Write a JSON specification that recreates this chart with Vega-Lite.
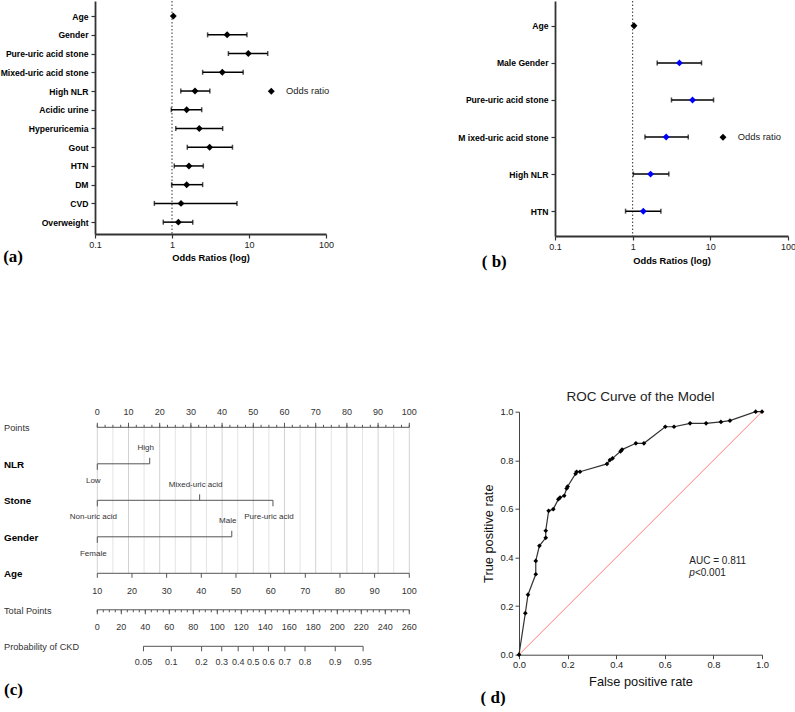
{
 "$schema": "https://vega.github.io/schema/vega-lite/v6.json",
 "background": "white",
 "padding": 0,
 "spacing": 117.7,
 "config": {"view": {"stroke": null}, "font": "Liberation Sans", "text": {"font": "Liberation Sans"}},
 "datasets": {
  "fa": [
   {"factor":"Age","or":1.04,"lo":1.03,"hi":1.05},
   {"factor":"Gender","or":5.2,"lo":2.9,"hi":9.4},
   {"factor":"Pure-uric acid stone","or":9.8,"lo":5.4,"hi":17.5},
   {"factor":"Mixed-uric acid stone","or":4.5,"lo":2.5,"hi":8.4},
   {"factor":"High NLR","or":1.99,"lo":1.3,"hi":3.1},
   {"factor":"Acidic urine","or":1.55,"lo":0.98,"hi":2.43},
   {"factor":"Hyperuricemia","or":2.26,"lo":1.12,"hi":4.55},
   {"factor":"Gout","or":3.08,"lo":1.58,"hi":6.1},
   {"factor":"HTN","or":1.66,"lo":1.07,"hi":2.55},
   {"factor":"DM","or":1.55,"lo":0.99,"hi":2.5},
   {"factor":"CVD","or":1.31,"lo":0.59,"hi":6.98},
   {"factor":"Overweight","or":1.21,"lo":0.77,"hi":1.86}
  ],
  "fb": [
   {"factor":"Age","or":1.04,"lo":1.03,"hi":1.05},
   {"factor":"Male Gender","or":4.0,"lo":2.07,"hi":7.7},
   {"factor":"Pure-uric acid stone","or":5.9,"lo":3.16,"hi":11.0},
   {"factor":"M ixed-uric acid stone","or":2.7,"lo":1.44,"hi":5.2},
   {"factor":"High NLR","or":1.7,"lo":1.02,"hi":2.92},
   {"factor":"HTN","or":1.37,"lo":0.81,"hi":2.31}
  ],
  "roc": [
   {"fpr":0,"tpr":0},{"fpr":0.026,"tpr":0.171},{"fpr":0.037,"tpr":0.247},{"fpr":0.069,"tpr":0.331},
   {"fpr":0.069,"tpr":0.386},{"fpr":0.084,"tpr":0.448},{"fpr":0.11,"tpr":0.481},{"fpr":0.11,"tpr":0.51},
   {"fpr":0.122,"tpr":0.592},{"fpr":0.141,"tpr":0.599},{"fpr":0.162,"tpr":0.64},{"fpr":0.169,"tpr":0.647},
   {"fpr":0.186,"tpr":0.654},{"fpr":0.196,"tpr":0.684},{"fpr":0.2,"tpr":0.692},{"fpr":0.233,"tpr":0.745},
   {"fpr":0.237,"tpr":0.753},{"fpr":0.251,"tpr":0.753},{"fpr":0.362,"tpr":0.785},{"fpr":0.374,"tpr":0.801},
   {"fpr":0.385,"tpr":0.808},{"fpr":0.418,"tpr":0.837},{"fpr":0.424,"tpr":0.844},{"fpr":0.481,"tpr":0.87},
   {"fpr":0.514,"tpr":0.87},{"fpr":0.602,"tpr":0.938},{"fpr":0.638,"tpr":0.938},{"fpr":0.704,"tpr":0.952},
   {"fpr":0.77,"tpr":0.952},{"fpr":0.831,"tpr":0.958},{"fpr":0.868,"tpr":0.963},{"fpr":0.974,"tpr":1.0},
   {"fpr":1.0,"tpr":1.0}
  ],
  "pts": [
   {"v":0},{"v":2.5},{"v":5},{"v":7.5},{"v":10},{"v":12.5},{"v":15},{"v":17.5},{"v":20},{"v":22.5},
   {"v":25},{"v":27.5},{"v":30},{"v":32.5},{"v":35},{"v":37.5},{"v":40},{"v":42.5},{"v":45},{"v":47.5},
   {"v":50},{"v":52.5},{"v":55},{"v":57.5},{"v":60},{"v":62.5},{"v":65},{"v":67.5},{"v":70},{"v":72.5},
   {"v":75},{"v":77.5},{"v":80},{"v":82.5},{"v":85},{"v":87.5},{"v":90},{"v":92.5},{"v":95},{"v":97.5},{"v":100}
  ],
  "age": [
   {"age":10},{"age":20},{"age":30},{"age":40},{"age":50},{"age":60},{"age":70},{"age":80},{"age":90},{"age":100}
  ],
  "tp": [
   {"tp":0},{"tp":5},{"tp":10},{"tp":15},{"tp":20},{"tp":25},{"tp":30},{"tp":35},{"tp":40},{"tp":45},
   {"tp":50},{"tp":55},{"tp":60},{"tp":65},{"tp":70},{"tp":75},{"tp":80},{"tp":85},{"tp":90},{"tp":95},
   {"tp":100},{"tp":105},{"tp":110},{"tp":115},{"tp":120},{"tp":125},{"tp":130},{"tp":135},{"tp":140},{"tp":145},
   {"tp":150},{"tp":155},{"tp":160},{"tp":165},{"tp":170},{"tp":175},{"tp":180},{"tp":185},{"tp":190},{"tp":195},
   {"tp":200},{"tp":205},{"tp":210},{"tp":215},{"tp":220},{"tp":225},{"tp":230},{"tp":235},{"tp":240},{"tp":245},
   {"tp":250},{"tp":255},{"tp":260}
  ],
  "prob": [
   {"p":"0.05","tp":38.5},{"p":"0.1","tp":61.7},{"p":"0.2","tp":86.9},{"p":"0.3","tp":103.7},
   {"p":"0.4","tp":117.4},{"p":"0.5","tp":130},{"p":"0.6","tp":142.6},{"p":"0.7","tp":156.3},
   {"p":"0.8","tp":173.1},{"p":"0.9","tp":198.3},{"p":"0.95","tp":221.5}
  ],
  "rows": [
   {"row":1,"name":"Points"},{"row":2,"name":"NLR"},{"row":3,"name":"Stone"},{"row":4,"name":"Gender"},
   {"row":5,"name":"Age"},{"row":6,"name":"Total Points"},{"row":7,"name":"Probability of CKD"}
  ],
  "lines": [
   {"row":2,"from":0,"to":16.8},{"row":3,"from":0,"to":56.3},{"row":4,"from":0,"to":43.1}
  ],
  "cats": [
   {"row":2,"pts":0,"label":"Low","side":"below"},
   {"row":2,"pts":16.8,"label":"High","side":"above"},
   {"row":3,"pts":0,"label":"Non-uric acid","side":"below"},
   {"row":3,"pts":32.8,"label":"Mixed-uric acid","side":"above"},
   {"row":3,"pts":56.3,"label":"Pure-uric acid","side":"below"},
   {"row":4,"pts":0,"label":"Female","side":"below"},
   {"row":4,"pts":43.1,"label":"Male","side":"above"}
  ]
 },
 "vconcat": [
  {
   "spacing": 123,
   "resolve": {"scale": {"shape": "independent"}, "legend": {"shape": "independent"}},
   "hconcat": [
    {
     "width": 231, "height": 233,
     "title": {"text": "(a)", "orient": "bottom", "anchor": "start", "frame": "bounds", "font": "Liberation Serif", "fontSize": 17, "fontWeight": "bold", "offset": -13.5, "dx": 3, "color": "black"},
     "data": {"name": "fa"},
     "layer": [
      {"data": {"values": [{}]}, "mark": {"type": "rule", "strokeDash": [1.5, 2], "color": "#333", "strokeWidth": 1},
       "encoding": {"x": {"datum": 1, "type": "quantitative", "scale": {"type": "log", "domain": [0.1, 100], "nice": false},
        "axis": {"title": "Odds Ratios (log)", "values": [0.1, 1, 10, 100], "format": "~g", "labelFontSize": 9, "labelColor": "#222", "labelFont": "Liberation Sans", "titleFont": "Liberation Sans", "titleFontSize": 9.3, "titleFontWeight": "bold", "titleColor": "black", "tickSize": 4, "tickColor": "#333", "tickWidth": 1.2, "domainColor": "#333", "domainWidth": 1.8, "labelPadding": 2, "titlePadding": 4.6, "grid": false, "labelFlush": false}}}},
      {"mark": {"type": "rule", "color": "black", "strokeWidth": 1.5},
       "encoding": {
        "y": {"field": "factor", "type": "nominal", "sort": null, "scale": {"type": "point", "padding": 0.72, "align": 0.56},
         "axis": {"title": null, "labelFont": "Liberation Sans", "labelFontSize": 8.6, "labelFontWeight": "bold", "labelColor": "black", "tickSize": 4, "tickColor": "#333", "tickWidth": 1.2, "domainColor": "#333", "domainWidth": 1.8, "labelPadding": 3, "grid": false}},
        "x": {"field": "lo", "type": "quantitative", "scale": {"type": "log", "domain": [0.1, 100], "nice": false}},
        "x2": {"field": "hi"}}},
      {"mark": {"type": "tick", "orient": "vertical", "color": "black", "size": 5, "thickness": 1.5},
       "encoding": {"y": {"field": "factor", "type": "nominal", "sort": null, "scale": {"type": "point", "padding": 0.72, "align": 0.56}},
        "x": {"field": "lo", "type": "quantitative"}}},
      {"mark": {"type": "tick", "orient": "vertical", "color": "black", "size": 5, "thickness": 1.5},
       "encoding": {"y": {"field": "factor", "type": "nominal", "sort": null, "scale": {"type": "point", "padding": 0.72, "align": 0.56}},
        "x": {"field": "hi", "type": "quantitative"}}},
      {"mark": {"type": "point", "filled": true, "size": 48, "opacity": 1, "color": "black"},
       "encoding": {"y": {"field": "factor", "type": "nominal", "sort": null, "scale": {"type": "point", "padding": 0.72, "align": 0.56}},
        "x": {"field": "or", "type": "quantitative"},
        "shape": {"datum": "Odds ratio", "type": "nominal", "scale": {"range": ["diamond"]},
         "legend": {"orient": "none", "legendX": 171.6, "legendY": 85.6, "title": null, "labelFontSize": 9.4, "labelColor": "#222", "labelFont": "Liberation Sans", "symbolSize": 48, "symbolFillColor": "black", "symbolStrokeColor": "black", "labelOffset": 10, "padding": 0}}}}
     ]
    },
    {
     "width": 233, "height": 235,
     "title": {"text": "( b)", "orient": "bottom", "anchor": "start", "frame": "bounds", "font": "Liberation Serif", "fontSize": 17, "fontWeight": "bold", "offset": -11.3, "dx": 24, "color": "black"},
     "data": {"name": "fb"},
     "layer": [
      {"data": {"values": [{}]}, "mark": {"type": "rule", "strokeDash": [1.5, 2], "color": "#333", "strokeWidth": 1},
       "encoding": {"x": {"datum": 1, "type": "quantitative", "scale": {"type": "log", "domain": [0.1, 100], "nice": false},
        "axis": {"title": "Odds Ratios (log)", "values": [0.1, 1, 10, 100], "format": "~g", "labelFontSize": 9, "labelColor": "#222", "labelFont": "Liberation Sans", "titleFont": "Liberation Sans", "titleFontSize": 9.3, "titleFontWeight": "bold", "titleColor": "black", "tickSize": 4, "tickColor": "#333", "tickWidth": 1.2, "domainColor": "#333", "domainWidth": 1.8, "labelPadding": 2, "titlePadding": 5.3, "grid": false, "labelFlush": false}}}},
      {"mark": {"type": "rule", "color": "black", "strokeWidth": 1.5},
       "encoding": {
        "y": {"field": "factor", "type": "nominal", "sort": null, "scale": {"type": "point", "padding": 0.67},
         "axis": {"title": null, "labelFont": "Liberation Sans", "labelFontSize": 8.6, "labelFontWeight": "bold", "labelColor": "black", "tickSize": 4, "tickColor": "#333", "tickWidth": 1.2, "domainColor": "#333", "domainWidth": 1.8, "labelPadding": 3, "grid": false}},
        "x": {"field": "lo", "type": "quantitative", "scale": {"type": "log", "domain": [0.1, 100], "nice": false}},
        "x2": {"field": "hi"}}},
      {"mark": {"type": "tick", "orient": "vertical", "color": "black", "size": 5, "thickness": 1.5},
       "encoding": {"y": {"field": "factor", "type": "nominal", "sort": null, "scale": {"type": "point", "padding": 0.67}},
        "x": {"field": "lo", "type": "quantitative"}}},
      {"mark": {"type": "tick", "orient": "vertical", "color": "black", "size": 5, "thickness": 1.5},
       "encoding": {"y": {"field": "factor", "type": "nominal", "sort": null, "scale": {"type": "point", "padding": 0.67}},
        "x": {"field": "hi", "type": "quantitative"}}},
      {"transform": [{"filter": "datum.factor !== 'Age'"}],
       "mark": {"type": "point", "filled": true, "size": 48, "opacity": 1, "shape": "diamond", "color": "#0000ff"},
       "encoding": {"y": {"field": "factor", "type": "nominal", "sort": null, "scale": {"type": "point", "padding": 0.67}},
        "x": {"field": "or", "type": "quantitative"}}},
      {"transform": [{"filter": "datum.factor === 'Age'"}],
       "mark": {"type": "point", "filled": true, "size": 48, "opacity": 1, "color": "black"},
       "encoding": {"y": {"field": "factor", "type": "nominal", "sort": null, "scale": {"type": "point", "padding": 0.67}},
        "x": {"field": "or", "type": "quantitative"},
        "shape": {"datum": "Odds ratio", "type": "nominal", "scale": {"range": ["diamond"]},
         "legend": {"orient": "none", "legendX": 163.3, "legendY": 131.6, "title": null, "labelFontSize": 9.4, "labelColor": "#222", "labelFont": "Liberation Sans", "symbolSize": 48, "symbolFillColor": "black", "symbolStrokeColor": "black", "labelOffset": 10, "padding": 0}}}}
     ]
    }
   ]
  },
  {
   "spacing": 60,
   "hconcat": [
    {
     "width": 325, "height": 259,
     "title": {"text": "(c)", "orient": "bottom", "anchor": "start", "frame": "bounds", "font": "Liberation Serif", "fontSize": 17, "fontWeight": "bold", "offset": 11, "dx": 0, "color": "black"},
     "resolve": {"scale": {"x": "independent"}},
     "layer": [
      {"layer": [
       {"data": {"name": "pts"}, "transform": [{"filter": "datum.v % 5 == 0 && datum.v % 10 != 0"}],
        "mark": {"type": "rule", "color": "#e4e4e4", "strokeWidth": 1},
        "encoding": {"x": {"field": "v", "type": "quantitative", "scale": {"domain": [-0.737, 103.43], "nice": false, "zero": false}, "axis": null},
         "y": {"datum": 1, "type": "quantitative", "scale": {"domain": [0.5726, 7.6685], "reverse": true, "nice": false, "zero": false}, "axis": null},
         "y2": {"datum": 5}}},
       {"data": {"name": "pts"}, "transform": [{"filter": "datum.v % 10 == 0"}],
        "mark": {"type": "rule", "color": "#d2d2d2", "strokeWidth": 1},
        "encoding": {"x": {"field": "v", "type": "quantitative", "scale": {"domain": [-0.737, 103.43], "nice": false, "zero": false}, "axis": null},
         "y": {"datum": 1, "type": "quantitative", "scale": {"domain": [0.5726, 7.6685], "reverse": true, "nice": false, "zero": false}, "axis": null},
         "y2": {"datum": 5}}},
       {"data": {"values": [{}]}, "mark": {"type": "rule", "color": "#555", "strokeWidth": 1},
        "encoding": {"x": {"datum": 0, "type": "quantitative", "scale": {"domain": [-0.737, 103.43], "nice": false, "zero": false}, "axis": null},
         "x2": {"datum": 100},
         "y": {"datum": 1, "type": "quantitative", "scale": {"domain": [0.5726, 7.6685], "reverse": true, "nice": false, "zero": false}, "axis": null}}},
       {"data": {"name": "pts"}, "mark": {"type": "rule", "color": "#555", "strokeWidth": 1, "y2Offset": -2.5},
        "encoding": {"x": {"field": "v", "type": "quantitative", "scale": {"domain": [-0.737, 103.43], "nice": false, "zero": false}, "axis": null},
         "y": {"datum": 1, "type": "quantitative", "scale": {"domain": [0.5726, 7.6685], "reverse": true, "nice": false, "zero": false}, "axis": null},
         "y2": {"datum": 1}}},
       {"data": {"name": "pts"}, "transform": [{"filter": "datum.v % 10 == 0"}], "mark": {"type": "rule", "color": "#555", "strokeWidth": 1, "y2Offset": -4.5},
        "encoding": {"x": {"field": "v", "type": "quantitative", "scale": {"domain": [-0.737, 103.43], "nice": false, "zero": false}, "axis": null},
         "y": {"datum": 1, "type": "quantitative", "scale": {"domain": [0.5726, 7.6685], "reverse": true, "nice": false, "zero": false}, "axis": null},
         "y2": {"datum": 1}}},
       {"data": {"name": "pts"}, "transform": [{"filter": "datum.v % 10 == 0"}], "mark": {"type": "text", "dy": -15, "fontSize": 9, "color": "#333"},
        "encoding": {"x": {"field": "v", "type": "quantitative", "scale": {"domain": [-0.737, 103.43], "nice": false, "zero": false}, "axis": null},
         "y": {"datum": 1, "type": "quantitative", "scale": {"domain": [0.5726, 7.6685], "reverse": true, "nice": false, "zero": false}, "axis": null},
         "text": {"field": "v", "type": "quantitative", "format": "d"}}},
       {"data": {"name": "rows"}, "transform": [{"filter": "datum.row == 1 || datum.row >= 6"}],
        "mark": {"type": "text", "align": "left", "baseline": "middle", "dy": 1, "fontSize": 9.2, "color": "#333"},
        "encoding": {"x": {"datum": -29.9, "type": "quantitative", "scale": {"domain": [-0.737, 103.43], "nice": false, "zero": false}, "axis": null},
         "y": {"field": "row", "type": "quantitative", "scale": {"domain": [0.5726, 7.6685], "reverse": true, "nice": false, "zero": false}, "axis": null},
         "text": {"field": "name"}}},
       {"data": {"name": "rows"}, "transform": [{"filter": "datum.row >= 2 && datum.row <= 5"}],
        "mark": {"type": "text", "align": "left", "baseline": "middle", "dy": 1, "fontSize": 9.8, "fontWeight": "bold", "color": "black"},
        "encoding": {"x": {"datum": -29.9, "type": "quantitative", "scale": {"domain": [-0.737, 103.43], "nice": false, "zero": false}, "axis": null},
         "y": {"field": "row", "type": "quantitative", "scale": {"domain": [0.5726, 7.6685], "reverse": true, "nice": false, "zero": false}, "axis": null},
         "text": {"field": "name"}}},
       {"data": {"name": "lines"}, "mark": {"type": "rule", "color": "#555", "strokeWidth": 1},
        "encoding": {"x": {"field": "from", "type": "quantitative", "scale": {"domain": [-0.737, 103.43], "nice": false, "zero": false}, "axis": null},
         "x2": {"field": "to"},
         "y": {"field": "row", "type": "quantitative", "scale": {"domain": [0.5726, 7.6685], "reverse": true, "nice": false, "zero": false}, "axis": null}}},
       {"data": {"name": "cats"}, "transform": [{"filter": "datum.side == 'above'"}], "mark": {"type": "rule", "color": "#555", "strokeWidth": 1, "y2Offset": -6},
        "encoding": {"x": {"field": "pts", "type": "quantitative", "scale": {"domain": [-0.737, 103.43], "nice": false, "zero": false}, "axis": null},
         "y": {"field": "row", "type": "quantitative", "scale": {"domain": [0.5726, 7.6685], "reverse": true, "nice": false, "zero": false}, "axis": null},
         "y2": {"field": "row"}}},
       {"data": {"name": "cats"}, "transform": [{"filter": "datum.side == 'below'"}], "mark": {"type": "rule", "color": "#555", "strokeWidth": 1, "y2Offset": 6},
        "encoding": {"x": {"field": "pts", "type": "quantitative", "scale": {"domain": [-0.737, 103.43], "nice": false, "zero": false}, "axis": null},
         "y": {"field": "row", "type": "quantitative", "scale": {"domain": [0.5726, 7.6685], "reverse": true, "nice": false, "zero": false}, "axis": null},
         "y2": {"field": "row"}}},
       {"data": {"name": "cats"}, "transform": [{"filter": "datum.side == 'above'"}], "mark": {"type": "text", "dy": -15.5, "dx": -4, "fontSize": 8, "color": "#333"},
        "encoding": {"x": {"field": "pts", "type": "quantitative", "scale": {"domain": [-0.737, 103.43], "nice": false, "zero": false}, "axis": null},
         "y": {"field": "row", "type": "quantitative", "scale": {"domain": [0.5726, 7.6685], "reverse": true, "nice": false, "zero": false}, "axis": null},
         "text": {"field": "label"}}},
       {"data": {"name": "cats"}, "transform": [{"filter": "datum.side == 'below'"}], "mark": {"type": "text", "dy": 17, "dx": -4, "fontSize": 8, "color": "#333"},
        "encoding": {"x": {"field": "pts", "type": "quantitative", "scale": {"domain": [-0.737, 103.43], "nice": false, "zero": false}, "axis": null},
         "y": {"field": "row", "type": "quantitative", "scale": {"domain": [0.5726, 7.6685], "reverse": true, "nice": false, "zero": false}, "axis": null},
         "text": {"field": "label"}}}
      ]},
      {"layer": [
       {"data": {"values": [{}]}, "mark": {"type": "rule", "color": "#555", "strokeWidth": 1},
        "encoding": {"x": {"datum": 10, "type": "quantitative", "scale": {"domain": [9.337, 103.09], "nice": false, "zero": false}, "axis": null},
         "x2": {"datum": 100},
         "y": {"datum": 5, "type": "quantitative", "scale": {"domain": [0.5726, 7.6685], "reverse": true, "nice": false, "zero": false}, "axis": null}}},
       {"data": {"name": "age"}, "mark": {"type": "rule", "color": "#555", "strokeWidth": 1, "y2Offset": 4.5},
        "encoding": {"x": {"field": "age", "type": "quantitative", "scale": {"domain": [9.337, 103.09], "nice": false, "zero": false}, "axis": null},
         "y": {"datum": 5, "type": "quantitative", "scale": {"domain": [0.5726, 7.6685], "reverse": true, "nice": false, "zero": false}, "axis": null},
         "y2": {"datum": 5}}},
       {"data": {"name": "age"}, "mark": {"type": "text", "dy": 17.7, "fontSize": 9, "color": "#333"},
        "encoding": {"x": {"field": "age", "type": "quantitative", "scale": {"domain": [9.337, 103.09], "nice": false, "zero": false}, "axis": null},
         "y": {"datum": 5, "type": "quantitative", "scale": {"domain": [0.5726, 7.6685], "reverse": true, "nice": false, "zero": false}, "axis": null},
         "text": {"field": "age", "type": "quantitative", "format": "d"}}}
      ]},
      {"layer": [
       {"data": {"values": [{}]}, "mark": {"type": "rule", "color": "#555", "strokeWidth": 1},
        "encoding": {"x": {"datum": 0, "type": "quantitative", "scale": {"domain": [-1.917, 268.92], "nice": false, "zero": false}, "axis": null},
         "x2": {"datum": 260},
         "y": {"datum": 6, "type": "quantitative", "scale": {"domain": [0.5726, 7.6685], "reverse": true, "nice": false, "zero": false}, "axis": null}}},
       {"data": {"name": "tp"}, "mark": {"type": "rule", "color": "#555", "strokeWidth": 1, "y2Offset": 2.5},
        "encoding": {"x": {"field": "tp", "type": "quantitative", "scale": {"domain": [-1.917, 268.92], "nice": false, "zero": false}, "axis": null},
         "y": {"datum": 6, "type": "quantitative", "scale": {"domain": [0.5726, 7.6685], "reverse": true, "nice": false, "zero": false}, "axis": null},
         "y2": {"datum": 6}}},
       {"data": {"name": "tp"}, "transform": [{"filter": "datum.tp % 20 == 0"}], "mark": {"type": "rule", "color": "#555", "strokeWidth": 1, "y2Offset": 4.5},
        "encoding": {"x": {"field": "tp", "type": "quantitative", "scale": {"domain": [-1.917, 268.92], "nice": false, "zero": false}, "axis": null},
         "y": {"datum": 6, "type": "quantitative", "scale": {"domain": [0.5726, 7.6685], "reverse": true, "nice": false, "zero": false}, "axis": null},
         "y2": {"datum": 6}}},
       {"data": {"name": "tp"}, "transform": [{"filter": "datum.tp % 20 == 0"}], "mark": {"type": "text", "dy": 17.3, "fontSize": 9, "color": "#333"},
        "encoding": {"x": {"field": "tp", "type": "quantitative", "scale": {"domain": [-1.917, 268.92], "nice": false, "zero": false}, "axis": null},
         "y": {"datum": 6, "type": "quantitative", "scale": {"domain": [0.5726, 7.6685], "reverse": true, "nice": false, "zero": false}, "axis": null},
         "text": {"field": "tp", "type": "quantitative", "format": "d"}}},
       {"data": {"values": [{}]}, "mark": {"type": "rule", "color": "#555", "strokeWidth": 1},
        "encoding": {"x": {"datum": 38.5, "type": "quantitative", "scale": {"domain": [-1.917, 268.92], "nice": false, "zero": false}, "axis": null},
         "x2": {"datum": 221.5},
         "y": {"datum": 7, "type": "quantitative", "scale": {"domain": [0.5726, 7.6685], "reverse": true, "nice": false, "zero": false}, "axis": null}}},
       {"data": {"name": "prob"}, "mark": {"type": "rule", "color": "#555", "strokeWidth": 1, "y2Offset": 5},
        "encoding": {"x": {"field": "tp", "type": "quantitative", "scale": {"domain": [-1.917, 268.92], "nice": false, "zero": false}, "axis": null},
         "y": {"datum": 7, "type": "quantitative", "scale": {"domain": [0.5726, 7.6685], "reverse": true, "nice": false, "zero": false}, "axis": null},
         "y2": {"datum": 7}}},
       {"data": {"name": "prob"}, "mark": {"type": "text", "dy": 15.4, "fontSize": 9, "color": "#333"},
        "encoding": {"x": {"field": "tp", "type": "quantitative", "scale": {"domain": [-1.917, 268.92], "nice": false, "zero": false}, "axis": null},
         "y": {"datum": 7, "type": "quantitative", "scale": {"domain": [0.5726, 7.6685], "reverse": true, "nice": false, "zero": false}, "axis": null},
         "text": {"field": "p"}}}
      ]}
     ]
    },
    {
     "spacing": 0,
     "title": {"text": "( d)", "orient": "bottom", "anchor": "start", "frame": "bounds", "font": "Liberation Serif", "fontSize": 17, "fontWeight": "bold", "offset": 2, "dx": -2, "color": "black"},
     "vconcat": [
      {
       "width": 243, "height": 243,
       "title": {"text": "ROC Curve of the Model", "fontSize": 13.5, "fontWeight": "normal", "color": "#222", "offset": 3.6, "font": "Liberation Sans"},
       "layer": [
        {"data": {"values": [{}]}, "mark": {"type": "rule", "color": "#ff7a7a", "strokeWidth": 1},
         "encoding": {"x": {"datum": 0, "type": "quantitative", "scale": {"domain": [0, 1], "nice": false},
           "axis": {"title": "False positive rate", "values": [0, 0.2, 0.4, 0.6, 0.8, 1], "format": ".1f", "labelFontSize": 9.4, "labelColor": "#222", "titleFontSize": 12.8, "titleFontWeight": "normal", "titleColor": "#111", "tickSize": 4, "tickColor": "#444", "domainColor": "#444", "domainWidth": 1, "labelPadding": 2, "titlePadding": 6, "grid": false, "labelFlush": false}},
          "y": {"datum": 0, "type": "quantitative", "scale": {"domain": [0, 1], "nice": false},
           "axis": {"title": "True positive rate", "values": [0, 0.2, 0.4, 0.6, 0.8, 1], "format": ".1f", "labelFontSize": 9.4, "labelColor": "#222", "titleFontSize": 12.8, "titleFontWeight": "normal", "titleColor": "#111", "tickSize": 4, "tickColor": "#444", "domainColor": "#444", "domainWidth": 1, "labelPadding": 2, "titlePadding": 4.4, "grid": false, "labelFlush": false}},
          "x2": {"datum": 1}, "y2": {"datum": 1}}},
        {"data": {"name": "roc"}, "mark": {"type": "line", "color": "#333", "strokeWidth": 1.2, "point": {"shape": "diamond", "filled": true, "size": 22, "color": "black"}},
         "encoding": {"x": {"field": "fpr", "type": "quantitative", "scale": {"domain": [0, 1], "nice": false},
           "axis": {"title": "False positive rate", "values": [0, 0.2, 0.4, 0.6, 0.8, 1], "format": ".1f", "labelFontSize": 9.4, "labelColor": "#222", "titleFontSize": 12.8, "titleFontWeight": "normal", "titleColor": "#111", "tickSize": 4, "tickColor": "#444", "domainColor": "#444", "domainWidth": 1, "labelPadding": 2, "titlePadding": 6, "grid": false, "labelFlush": false}},
          "y": {"field": "tpr", "type": "quantitative", "scale": {"domain": [0, 1], "nice": false},
           "axis": {"title": "True positive rate", "values": [0, 0.2, 0.4, 0.6, 0.8, 1], "format": ".1f", "labelFontSize": 9.4, "labelColor": "#222", "titleFontSize": 12.8, "titleFontWeight": "normal", "titleColor": "#111", "tickSize": 4, "tickColor": "#444", "domainColor": "#444", "domainWidth": 1, "labelPadding": 2, "titlePadding": 4.4, "grid": false, "labelFlush": false}},
          "order": {"value": null}}},
        {"data": {"values": [{"t": "AUC = 0.811"}]}, "mark": {"type": "text", "align": "left", "baseline": "middle", "fontSize": 10, "color": "#222"},
         "encoding": {"x": {"datum": 0.701, "type": "quantitative"}, "y": {"datum": 0.385, "type": "quantitative"}, "text": {"field": "t"}}},
        {"data": {"values": [{"t": "p"}]}, "mark": {"type": "text", "align": "left", "baseline": "middle", "fontSize": 10, "fontStyle": "italic", "color": "#222"},
         "encoding": {"x": {"datum": 0.701, "type": "quantitative"}, "y": {"datum": 0.337, "type": "quantitative"}, "text": {"field": "t"}}},
        {"data": {"values": [{"t": "<0.001"}]}, "mark": {"type": "text", "align": "left", "baseline": "middle", "fontSize": 10, "color": "#222", "dx": 5.6},
         "encoding": {"x": {"datum": 0.701, "type": "quantitative"}, "y": {"datum": 0.337, "type": "quantitative"}, "text": {"field": "t"}}}
       ]
      }
     ]
    }
   ]
  }
 ]
}
